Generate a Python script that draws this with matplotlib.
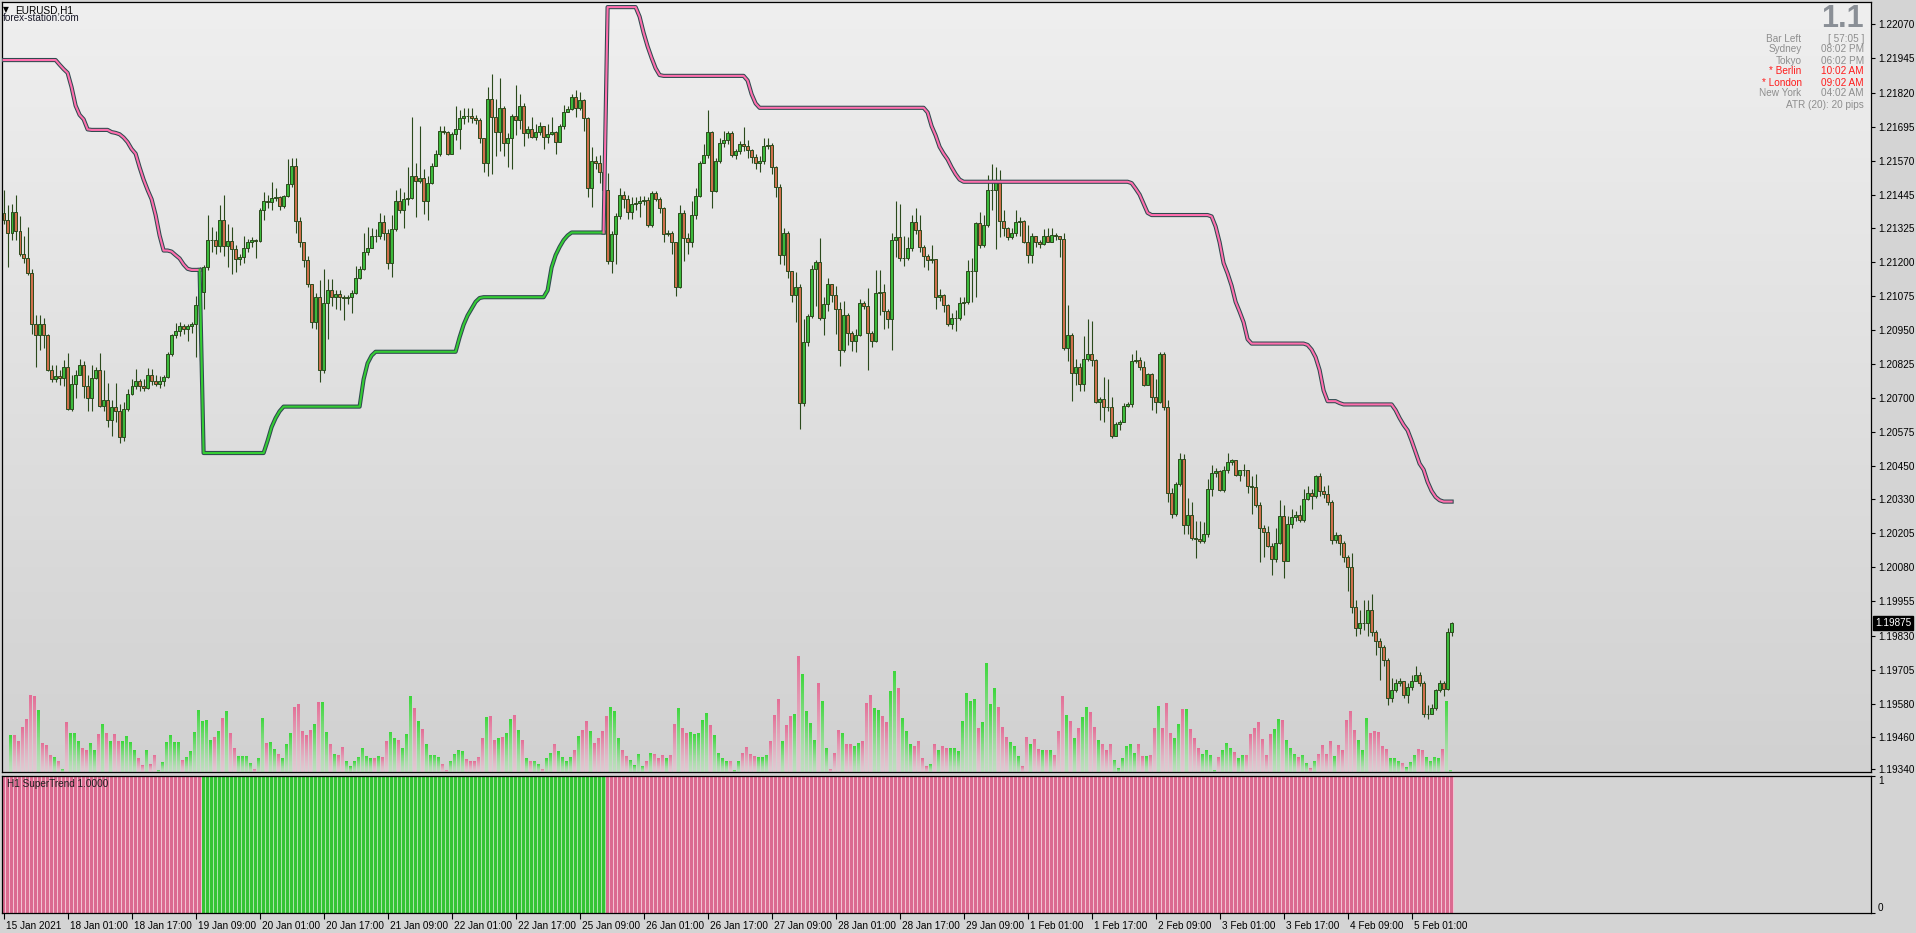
import numpy as np
import matplotlib
matplotlib.use("Agg")
import matplotlib.pyplot as plt
import matplotlib.transforms as mtransforms

# EURUSD H1, 15 Jan 2021 09:00 .. 5 Feb 2021 11:00, one value per hourly bar
# prices kept in points: price = 1 + pts / 100000
open_first_pts = 21379
close_pts = [
    21354, 21307, 21384, 21312, 21229, 21212, 21157, 20973, 20931, 20973,
    20931, 20803, 20769, 20783, 20773, 20816, 20661, 20753, 20786, 20823,
    20744, 20699, 20773, 20803, 20672, 20694, 20619, 20669, 20652, 20559,
    20659, 20714, 20744, 20764, 20744, 20739, 20786, 20763, 20753, 20764,
    20778, 20861, 20931, 20945, 20966, 20953, 20966, 20973, 21040, 21090,
    21179, 21279, 21279, 21257, 21354, 21257, 21277, 21246, 21209, 21217,
    21251, 21271, 21279, 21277, 21391, 21421, 21418, 21434, 21438, 21404,
    21441, 21484, 21551, 21349, 21271, 21207, 21117, 20978, 21070, 20803,
    21050, 21098, 21070, 21083, 21070, 21067, 21070, 21087, 21140, 21174,
    21234, 21251, 21296, 21294, 21346, 21307, 21195, 21321, 21421, 21388,
    21429, 21433, 21513, 21495, 21508, 21421, 21488, 21550, 21596, 21680,
    21675, 21596, 21668, 21685, 21727, 21735, 21733, 21728, 21718, 21652,
    21563, 21797, 21730, 21675, 21764, 21635, 21652, 21735, 21718, 21772,
    21672, 21688, 21658, 21675, 21697, 21658, 21668, 21675, 21638, 21697,
    21747, 21759, 21802, 21765, 21792, 21727, 21471, 21568, 21563, 21530,
    21463, 21204, 21301, 21368, 21444, 21429, 21384, 21413, 21414, 21424,
    21426, 21334, 21451, 21429, 21396, 21301, 21307, 21271, 21109, 21379,
    21287, 21271, 21371, 21441, 21563, 21591, 21675, 21458, 21568, 21635,
    21647, 21672, 21591, 21605, 21630, 21625, 21608, 21585, 21563, 21568,
    21625, 21628, 21546, 21474, 21224, 21307, 21167, 21078, 21109, 20683,
    20906, 21000, 21174, 21200, 20995, 21045, 21117, 21078, 21028, 20878,
    21003, 20940, 20911, 20933, 21050, 21037, 20940, 20911, 21087, 21090,
    21020, 20990, 21279, 21291, 21212, 21214, 21251, 21346, 21317, 21254,
    21220, 21207, 21210, 21070, 21078, 21040, 20973, 20992, 20995, 21050,
    21053, 21167, 21167, 21341, 21262, 21334, 21463, 21463, 21491, 21351,
    21324, 21291, 21304, 21346, 21351, 21274, 21224, 21296, 21271, 21266,
    21296, 21274, 21299, 21296, 21282, 20883, 20931, 20794, 20816, 20753,
    20845, 20861, 20839, 20686, 20697, 20669, 20666, 20560, 20606, 20611,
    20672, 20677, 20836, 20839, 20816, 20749, 20789, 20706, 20686, 20861,
    20666, 20352, 20276, 20385, 20477, 20235, 20271, 20188, 20185, 20176,
    20201, 20368, 20427, 20432, 20365, 20438, 20465, 20472, 20418, 20435,
    20438, 20377, 20373, 20310, 20226, 20210, 20159, 20109, 20171, 20268,
    20104, 20238, 20265, 20271, 20255, 20332, 20352, 20343, 20415, 20360,
    20348, 20321, 20181, 20198, 20168, 20118, 20081, 19934, 19859, 19875,
    19875, 19925, 19842, 19809, 19787, 19742, 19603, 19630, 19658, 19663,
    19613, 19641, 19663, 19686, 19658, 19541, 19541, 19566, 19630, 19658,
    19633, 19842, 19875]
high_pts = [
    21463, 21408, 21413, 21443, 21368, 21296, 21326, 21174, 21003, 21003,
    20995, 20936, 20823, 20823, 20803, 20839, 20865, 20786, 20803, 20845,
    20836, 20786, 20823, 20816, 20865, 20803, 20756, 20694, 20756, 20677,
    20686, 20733, 20769, 20806, 20769, 20769, 20811, 20806, 20786, 20783,
    20786, 20870, 20936, 20975, 20978, 20973, 20973, 20978, 21073, 21179,
    21187, 21371, 21329, 21312, 21408, 21446, 21337, 21329, 21262, 21229,
    21296, 21284, 21291, 21282, 21396, 21454, 21446, 21491, 21471, 21441,
    21446, 21575, 21580, 21580, 21363, 21274, 21220, 21120, 21087, 21132,
    21174, 21137, 21137, 21095, 21095, 21078, 21078, 21095, 21184, 21184,
    21307, 21329, 21324, 21321, 21379, 21371, 21321, 21371, 21463, 21471,
    21454, 21546, 21730, 21563, 21697, 21541, 21513, 21563, 21608, 21697,
    21697, 21680, 21675, 21772, 21755, 21764, 21764, 21764, 21738, 21725,
    21655, 21839, 21889, 21797, 21872, 21772, 21672, 21742, 21847, 21814,
    21780, 21697, 21730, 21705, 21713, 21688, 21705, 21730, 21680, 21705,
    21775, 21772, 21814, 21830, 21822, 21797, 21730, 21622, 21588, 21591,
    21538, 21525, 21312, 21379, 21471, 21458, 21446, 21438, 21438, 21441,
    21441, 21438, 21458, 21458, 21438, 21401, 21317, 21312, 21274, 21408,
    21388, 21304, 21421, 21471, 21568, 21630, 21755, 21680, 21580, 21655,
    21680, 21680, 21680, 21613, 21642, 21692, 21647, 21613, 21596, 21588,
    21652, 21655, 21635, 21551, 21484, 21324, 21312, 21167, 21162, 21120,
    20990, 21007, 21187, 21207, 21287, 21070, 21140, 21103, 21112, 21053,
    21057, 21012, 20945, 20953, 21062, 21057, 21103, 20945, 21170, 21170,
    21117, 21028, 21304, 21421, 21413, 21296, 21291, 21371, 21396, 21371,
    21262, 21229, 21262, 21207, 21100, 21083, 21045, 21012, 21023, 21070,
    21070, 21207, 21212, 21346, 21384, 21371, 21518, 21558, 21546, 21535,
    21388, 21329, 21324, 21388, 21363, 21354, 21334, 21304, 21296, 21279,
    21321, 21324, 21324, 21304, 21296, 21304, 21040, 20940, 20845, 20828,
    20928, 20990, 20983, 20845, 20706, 20778, 20769, 20706, 20611, 20619,
    20683, 20686, 20861, 20878, 20850, 20836, 20794, 20794, 20769, 20870,
    20870, 20694, 20372, 20393, 20499, 20494, 20335, 20321, 20251, 20251,
    20248, 20402, 20455, 20443, 20438, 20452, 20499, 20477, 20465, 20438,
    20460, 20438, 20415, 20422, 20318, 20235, 20231, 20168, 20226, 20326,
    20310, 20268, 20293, 20285, 20310, 20368, 20377, 20368, 20418, 20427,
    20377, 20382, 20326, 20210, 20201, 20176, 20126, 20134, 19959, 19925,
    19959, 19959, 19981, 19850, 19820, 19797, 19747, 19675, 19670, 19675,
    19663, 19658, 19686, 19717, 19697, 19663, 19575, 19580, 19636, 19666,
    19663, 19859, 19880]
low_pts = [
    21337, 21179, 21279, 21279, 21220, 21195, 21150, 20936, 20816, 20875,
    20883, 20798, 20761, 20761, 20749, 20743, 20656, 20652, 20702, 20786,
    20702, 20652, 20652, 20769, 20669, 20652, 20594, 20560, 20611, 20535,
    20544, 20652, 20711, 20733, 20728, 20728, 20733, 20749, 20746, 20739,
    20744, 20773, 20856, 20920, 20928, 20936, 20911, 20940, 20850, 20836,
    21028, 21170, 21237, 21229, 21237, 21220, 21179, 21154, 21162, 21187,
    21195, 21237, 21254, 21212, 21271, 21354, 21396, 21388, 21421, 21391,
    21396, 21438, 21474, 21304, 21254, 21179, 21107, 20956, 20953, 20761,
    20794, 20916, 21037, 21028, 21023, 20987, 21045, 21012, 21083, 21137,
    21170, 21224, 21254, 21271, 21282, 21279, 21174, 21145, 21312, 21379,
    21324, 21408, 21429, 21363, 21488, 21374, 21354, 21484, 21563, 21588,
    21668, 21591, 21642, 21647, 21613, 21705, 21713, 21708, 21705, 21635,
    21530, 21513, 21521, 21588, 21605, 21588, 21546, 21538, 21663, 21688,
    21625, 21652, 21652, 21647, 21663, 21613, 21635, 21663, 21596, 21638,
    21688, 21747, 21755, 21730, 21755, 21680, 21438, 21401, 21538, 21488,
    21429, 21190, 21157, 21190, 21357, 21396, 21357, 21357, 21388, 21363,
    21408, 21329, 21329, 21421, 21379, 21271, 21296, 21229, 21075, 21103,
    21204, 21229, 21254, 21357, 21438, 21563, 21580, 21396, 21454, 21563,
    21622, 21630, 21585, 21575, 21596, 21605, 21580, 21563, 21541, 21530,
    21558, 21613, 21521, 21438, 21190, 21187, 21140, 21053, 20978, 20586,
    20672, 20890, 20995, 21037, 20987, 20931, 21020, 21053, 20936, 20819,
    20870, 20895, 20873, 20870, 20928, 21028, 20803, 20886, 20906, 21003,
    20953, 20956, 20878, 21217, 21204, 21184, 21207, 21241, 21301, 21237,
    21179, 21170, 21195, 21028, 21057, 21017, 20966, 20953, 20945, 20987,
    21003, 21045, 21053, 21070, 21251, 21254, 21329, 21388, 21246, 21291,
    21296, 21279, 21284, 21296, 21296, 21267, 21195, 21195, 21254, 21251,
    21262, 21271, 21271, 21279, 21217, 20878, 20836, 20689, 20749, 20728,
    20728, 20836, 20819, 20683, 20619, 20611, 20652, 20555, 20560, 20582,
    20619, 20669, 20669, 20828, 20803, 20744, 20749, 20656, 20644, 20683,
    20656, 20321, 20260, 20268, 20377, 20201, 20201, 20181, 20114, 20171,
    20171, 20193, 20343, 20410, 20360, 20355, 20427, 20455, 20415, 20398,
    20415, 20352, 20276, 20301, 20098, 20118, 20154, 20051, 20098, 20164,
    20042, 20104, 20226, 20251, 20248, 20248, 20326, 20293, 20335, 20343,
    20335, 20310, 20164, 20168, 20126, 20101, 19992, 19914, 19830, 19837,
    19850, 19830, 19830, 19758, 19666, 19717, 19575, 19586, 19625, 19646,
    19603, 19583, 19630, 19663, 19646, 19533, 19524, 19541, 19558, 19625,
    19608, 19630, 19830]
tick_volume = [
    0, 0, 800, 800, 680, 980, 1150, 1670, 1650, 1350,
    630, 580, 380, 330, 250, 70, 1080, 850, 850, 680,
    520, 470, 630, 480, 820, 1050, 850, 680, 830, 680,
    670, 780, 650, 470, 300, 150, 470, 170, 370, 50,
    220, 650, 800, 650, 650, 270, 330, 450, 880, 1350,
    1100, 1130, 700, 770, 900, 1180, 1320, 850, 520, 350,
    350, 350, 200, 70, 300, 1180, 630, 650, 500, 400,
    300, 600, 850, 1420, 1470, 900, 800, 920, 1050, 1520,
    1530, 880, 620, 400, 370, 550, 230, 120, 230, 330,
    520, 350, 300, 300, 350, 330, 680, 880, 750, 700,
    530, 820, 1650, 1400, 1100, 930, 600, 380, 380, 330,
    180, 50, 250, 400, 470, 450, 280, 230, 230, 330,
    730, 1200, 1230, 700, 730, 770, 850, 1150, 1250, 920,
    700, 300, 250, 250, 180, 70, 300, 420, 620, 450,
    320, 230, 330, 470, 780, 920, 1100, 900, 630, 750,
    900, 1230, 1420, 1320, 750, 470, 350, 270, 150, 400,
    130, 230, 420, 400, 300, 370, 300, 380, 1050, 1400,
    950, 850, 880, 830, 850, 1130, 1280, 1020, 800, 420,
    300, 230, 250, 50, 230, 420, 550, 400, 350, 330,
    320, 380, 680, 1250, 1580, 670, 1020, 1220, 1270, 2520,
    2130, 1320, 1070, 700, 1930, 1550, 520, 70, 420, 920,
    850, 600, 600, 570, 630, 670, 1500, 1670, 1400, 1350,
    1230, 1080, 1770, 2200, 1820, 1170, 900, 600, 570, 670,
    300, 120, 180, 600, 480, 570, 520, 520, 520, 450,
    1100, 1720, 1550, 1600, 950, 1080, 2380, 1470, 1820, 1420,
    970, 770, 650, 570, 350, 120, 770, 600, 720, 500,
    470, 470, 470, 380, 900, 1650, 1250, 1100, 750, 950,
    1200, 1420, 1300, 980, 700, 620, 470, 620, 270, 80,
    300, 570, 600, 420, 600, 350, 350, 380, 950, 1430,
    950, 1500, 850, 750, 1050, 1370, 1370, 930, 730, 520,
    400, 470, 380, 50, 330, 480, 630, 530, 430, 300,
    380, 380, 830, 950, 1080, 720, 380, 820, 930, 1150,
    1130, 700, 530, 400, 320, 380, 200, 80, 250, 400,
    580, 400, 670, 350, 580, 470, 1130, 1330, 920, 700,
    470, 1170, 850, 900, 880, 570, 500, 300, 300, 250,
    200, 100, 220, 380, 500, 480, 330, 250, 330, 300,
    500, 1550, 50]
supertrend_pts = (
    [21939] * 14 + [21922, 21906, 21892, 21839, 21772, 21738, 21722, 21685]
    + [21683] * 5
    + [21675, 21672, 21667, 21655, 21638, 21613, 21596, 21546, 21501, 21463,
       21429, 21371, 21296, 21241, 21241, 21237, 21224, 21212, 21190, 21174]
    + [21170] * 3
    + [20499] * 16 + [20544, 20594, 20627, 20652] + [20669] * 20
    + [20769, 20828, 20856] + [20870] * 21
    + [20923, 20969, 21003, 21028, 21053, 21067] + [21070] * 16
    + [21095, 21179, 21224, 21254, 21279, 21296] + [21307] * 9
    + [22133] * 8 + [22098, 22039, 21989, 21947, 21909, 21884] + [21881] * 21
    + [21864, 21814, 21780] + [21764] * 42
    + [21747, 21697, 21663, 21621, 21596, 21575, 21546, 21521, 21501]
    + [21493] * 42 + [21488, 21468, 21446, 21413, 21379] + [21371] * 15
    + [21366, 21329, 21271, 21195, 21157, 21112, 21053, 21017, 20978, 20916]
    + [20900] * 14 + [20895, 20878, 20850, 20803, 20728] + [20689] * 3
    + [20682] + [20677] * 13
    + [20656, 20627, 20602, 20582, 20544, 20502, 20460, 20438, 20393, 20360,
       20338, 20326] + [20321] * 3)

price_ticks = [1.22070, 1.21945, 1.21820, 1.21695, 1.21570, 1.21445, 1.21325,
               1.21200, 1.21075, 1.20950, 1.20825, 1.20700, 1.20575, 1.20450,
               1.20330, 1.20205, 1.20080, 1.19955, 1.19830, 1.19705, 1.19580,
               1.19460, 1.19340]
time_tick_bars = [0, 16, 32, 48, 64, 80, 96, 112, 128, 144, 160, 176, 192,
                  208, 224, 240, 256, 272, 288, 304, 320, 336, 352]
time_tick_labels = ['15 Jan 2021', '18 Jan 01:00', '18 Jan 17:00', '19 Jan 09:00',
                    '20 Jan 01:00', '20 Jan 17:00', '21 Jan 09:00', '22 Jan 01:00',
                    '22 Jan 17:00', '25 Jan 09:00', '26 Jan 01:00', '26 Jan 17:00',
                    '27 Jan 09:00', '28 Jan 01:00', '28 Jan 17:00', '29 Jan 09:00',
                    '1 Feb 01:00', '1 Feb 17:00', '2 Feb 09:00', '3 Feb 01:00',
                    '3 Feb 17:00', '4 Feb 09:00', '5 Feb 01:00']
clock_names = ['Bar Left', 'Sydney', 'Tokyo', '* Berlin', '* London', 'New York']
clock_values = ['[ 57:05 ]', '08:02 PM', '06:02 PM', '10:02 AM', '09:02 AM', '04:02 AM']
clock_open = [False, False, False, True, True, False]

plt.rcParams['font.family'] = ['Liberation Sans', 'DejaVu Sans']

c = 1 + np.array(close_pts) / 1e5
o = np.concatenate([[1 + open_first_pts / 1e5], c[:-1]])  # open = previous close
h = np.maximum(1 + np.array(high_pts) / 1e5, np.maximum(o, c))
l = np.minimum(1 + np.array(low_pts) / 1e5, np.minimum(o, c))
st = 1 + np.array(supertrend_pts) / 1e5
vol = np.array(tick_volume, dtype=float)
n = len(c)
x = np.arange(n)
up = c >= o
trend_up = st < c

W, H = 1916, 933
fig = plt.figure(figsize=(W / 100, H / 100), dpi=100, facecolor='#d4d4d4')
main_rect = [2 / W, 1 - 772 / H, 1869 / W, 770 / H]
sub_rect = [2 / W, 1 - 913 / H, 1869 / W, 137 / H]
XLIM = (-0.4, 466.85)

# background + volumes
vax = fig.add_axes(main_rect, zorder=1)
vax.set_axis_off()
grad = np.linspace(239, 209, 256)[:, None] * np.ones((1, 2))
vax.imshow(np.dstack([grad, grad, grad]) / 255, extent=(0, 1, 0, 1),
           transform=vax.transAxes, aspect='auto', zorder=0)
vtop = 2700
rows = 270
yc = (np.arange(rows) + 0.5) * vtop / rows
img = np.zeros((rows, n * 4, 4))
green_v = np.array([60, 215, 60]) / 255
pink_v = np.array([228, 110, 150]) / 255
pale = np.array([224, 224, 224]) / 255
for i in range(n):
    if vol[i] <= 0:
        continue
    col = green_v if up[i] else pink_v
    m = yc <= vol[i]
    t = (yc[m] / vol[i])[:, None] ** 1.4
    rgb = pale + (col - pale) * (0.2 + 0.8 * t)
    for k in range(3):
        img[m, 4 * i + k, :3] = rgb
        img[m, 4 * i + k, 3] = 1
vax.imshow(img, extent=(-0.7, n - 0.7, 0, vtop), origin='lower', aspect='auto',
           interpolation='nearest', zorder=1)
vax.set_xlim(*XLIM)
vax.set_ylim(0, 16886)

# price axes
ax = fig.add_axes(main_rect, zorder=2)
ax.patch.set_visible(False)
dark = '#2b4a1c'
ax.vlines(x, l, h, color=dark, lw=0.8, zorder=2)
body_col = np.where(up, '#3cba3c', '#cf6f4c')
ax.bar(x, np.abs(c - o), bottom=np.minimum(o, c), width=0.55, color=body_col,
       edgecolor=dark, linewidth=0.7, zorder=3)

# supertrend lines, each trend leg starts from the previous bar's value
edges = np.flatnonzero(np.diff(trend_up.astype(int))) + 1
starts = np.concatenate([[0], edges])
ends = np.concatenate([edges, [n]])
for s, e in zip(starts, ends):
    s0 = max(s - 1, 0)
    col = '#34cd34' if trend_up[s] else '#ff6fae'
    ax.plot(x[s0:e], st[s0:e], color='#2f4a4f', lw=3.0, zorder=4,
            solid_joinstyle='round')
    ax.plot(x[s0:e], st[s0:e], color=col, lw=1.5, zorder=5)

ax.set_xlim(*XLIM)
ax.set_ylim(1.193301, 1.221517)
ax.set_xticks([])
ax.yaxis.tick_right()
ax.set_yticks(price_ticks)
ax.set_yticklabels(['%.5f' % p for p in price_ticks])
ax.tick_params(axis='y', direction='out', length=3, width=0.8, pad=2,
               labelsize=7.2, colors='black')
for sp in ax.spines.values():
    sp.set_color('black')
    sp.set_linewidth(0.9)
ax.annotate('%.5f' % c[-1], xy=(1.0, c[-1]), xycoords=('axes fraction', 'data'),
            xytext=(3, 0), textcoords='offset points', va='center', ha='left',
            fontsize=7.2, color='white',
            bbox=dict(boxstyle='square,pad=0.18', fc='black', ec='black'))

# SuperTrend direction panel
sub = fig.add_axes(sub_rect)
sub.set_facecolor('#d4d4d4')
light = np.where(trend_up, '#a8e4a8', '#f2c2d2')
full = np.where(trend_up, '#34c434', '#db6a90')
sub.bar(x, np.ones(n), width=1.0, color=light, linewidth=0)
sub.bar(x, np.ones(n), width=0.72, color=full, linewidth=0)
sub.set_xlim(*XLIM)
sub.set_ylim(0, 1)
sub.yaxis.tick_right()
sub.set_yticks([0, 1])
sub.set_yticklabels(['0', '1'])
lbls = sub.get_yticklabels()
lbls[0].set_va('bottom')
lbls[1].set_va('top')
sub.tick_params(axis='y', direction='out', length=3, width=0.8, pad=2,
                labelsize=7.2)
sub.set_xticks(time_tick_bars)
sub.set_xticklabels(time_tick_labels, ha='left')
sub.tick_params(axis='x', direction='out', length=4, width=0.8, pad=1.5,
                labelsize=7.2)
shift = mtransforms.ScaledTranslation(2 / 72, 0, fig.dpi_scale_trans)
for t in sub.get_xticklabels():
    t.set_transform(t.get_transform() + shift)
for sp in sub.spines.values():
    sp.set_color('black')
    sp.set_linewidth(0.9)
fig.text(7 / W, 1 - 784 / H, 'H1 SuperTrend 1.0000', fontsize=7.2,
         color='#202020', va='center', ha='left')

# chart title
fig.text(3 / W, 1 - 10 / H, '\u25bc', fontsize=5.5, va='center', ha='left',
         family=['DejaVu Sans'])
fig.text(15 / W, 1 - 10.5 / H, 'EURUSD,H1', fontsize=7.2, va='center', ha='left')
fig.text(3 / W, 1 - 17.7 / H, 'forex-station.com', fontsize=7.2, va='center',
         ha='left', color='#1a1a2a')

# clocks panel
fig.text(1864 / W, 1 - 19 / H, '1.1', fontsize=22, fontweight='bold',
         color='#8a8f96', va='center', ha='right')
for k, (nm, vl, op) in enumerate(zip(clock_names, clock_values, clock_open)):
    yy = 1 - (38.5 + 11 * k) / H
    colr = '#ff1c1c' if op else '#8e8e8e'
    fig.text(1801.5 / W, yy, nm, fontsize=7.2, color=colr, va='center', ha='right')
    fig.text(1864 / W, yy, vl, fontsize=7.2, color=colr, va='center', ha='right')
fig.text(1864 / W, 1 - 105 / H, 'ATR (20): 20 pips', fontsize=7.2,
         color='#8e8e8e', va='center', ha='right')

fig.savefig('out.png', dpi=100, facecolor=fig.get_facecolor())
